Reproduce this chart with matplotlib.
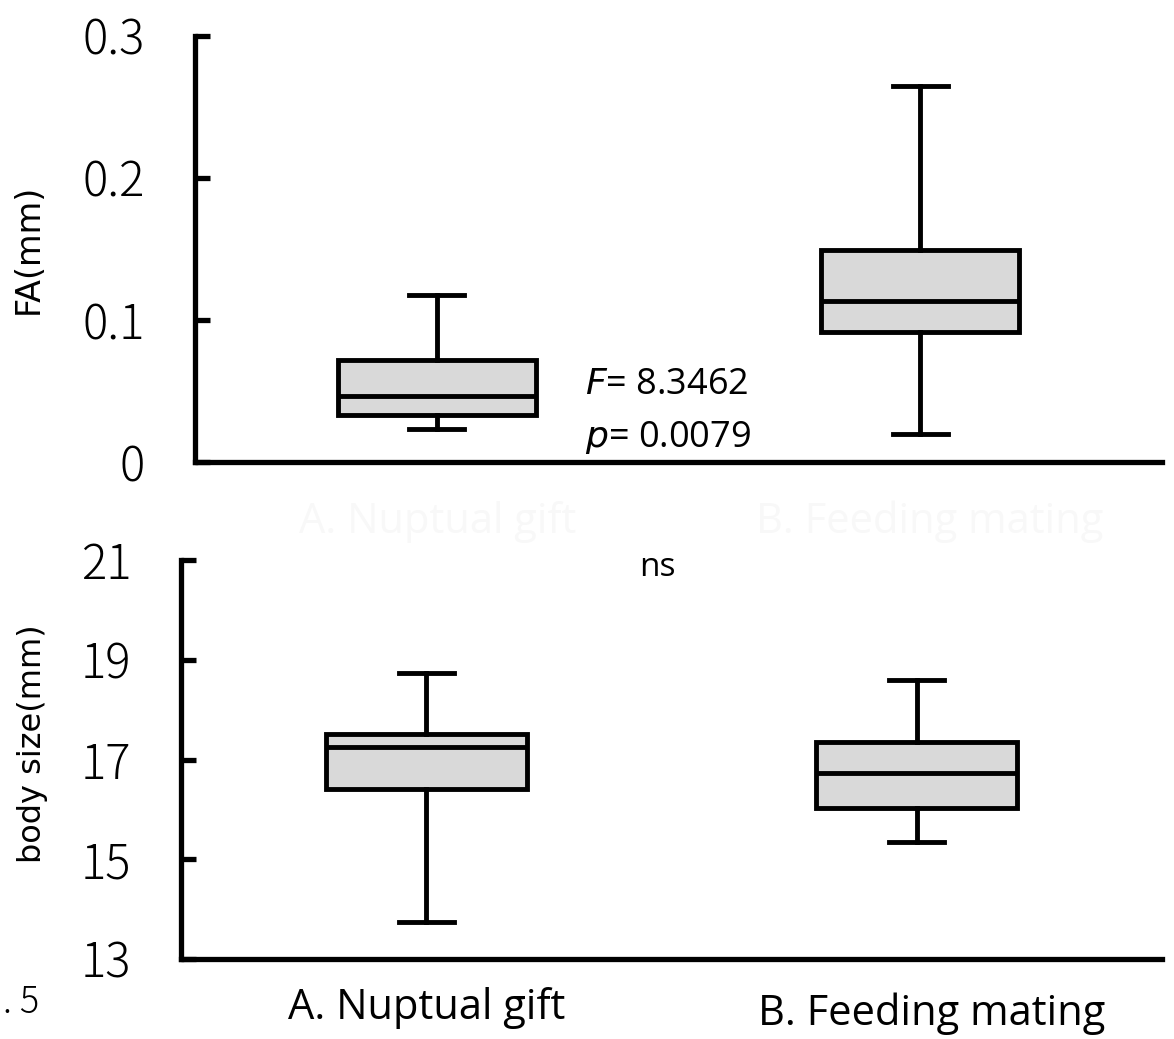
import matplotlib
matplotlib.use("Agg")
import matplotlib.pyplot as plt
import matplotlib.transforms as mtransforms

# ---- data ----
groups = ["A. Nuptual gift", "B. Feeding mating"]
# FA (mm): whisker low, Q1, median, Q3, whisker high
fa_low = [0.0232, 0.0197]
fa_q1 = [0.0331, 0.0915]
fa_med = [0.0465, 0.1134]
fa_q3 = [0.0718, 0.1493]
fa_high = [0.1176, 0.2648]
# body size (mm)
bs_low = [13.74, 15.34]
bs_q1 = [16.41, 16.03]
bs_med = [17.25, 16.73]
bs_q3 = [17.51, 17.35]
bs_high = [18.73, 18.59]

fa_ticks = [0, 0.1, 0.2, 0.3]
fa_ticklabels = ["0", "0.1", "0.2", "0.3"]
bs_ticks = [13, 15, 17, 19, 21]

def stats(low, q1, med, q3, high):
    return [dict(whislo=l, q1=a, med=m, q3=b, whishi=h, fliers=[])
            for l, a, m, b, h in zip(low, q1, med, q3, high)]

fig = plt.figure(figsize=(11.74, 10.39), dpi=100)
ax1 = fig.add_axes([0.1661, 0.5553, 0.8237, 0.4101])
ax2 = fig.add_axes([0.1542, 0.0770, 0.8356, 0.3840])

lw = 3.5
num_font = "Noto Sans CJK JP"
num_weight = 300
lab_font = "Open Sans"
box_props = dict(facecolor="#d9d9d9", edgecolor="black", linewidth=lw)
line_props = dict(color="black", linewidth=lw)

positions = [1, 2]
for ax, st in ((ax1, stats(fa_low, fa_q1, fa_med, fa_q3, fa_high)),
               (ax2, stats(bs_low, bs_q1, bs_med, bs_q3, bs_high))):
    ax.bxp(st, positions=positions, widths=0.41, capwidths=0.113,
           patch_artist=True, showfliers=False,
           boxprops=box_props, medianprops=line_props,
           whiskerprops=line_props, capprops=line_props)
    ax.set_xlim(0.5, 2.5)
    for s in ("top", "right"):
        ax.spines[s].set_visible(False)
    for s in ("left", "bottom"):
        ax.spines[s].set_linewidth(lw + 0.3)
    ax.tick_params(axis="y", direction="in", length=11, width=lw + 0.3,
                   pad=36, labelsize=34)
    ax.tick_params(axis="x", length=0)

ax1.set_ylim(0, 0.3)
ax1.set_yticks(fa_ticks)
ax1.set_yticklabels(fa_ticklabels, fontfamily=num_font, fontsize=34,
                    fontweight=num_weight)
ax1.set_xticks([])
ax1.set_ylabel("FA(mm)", fontsize=24, fontfamily="DejaVu Sans")
ax1.yaxis.set_label_coords(-0.155, 0.5)

ax2.set_ylim(13, 21)
ax2.set_yticks(bs_ticks)
ax2.set_yticklabels([str(v) for v in bs_ticks], fontfamily=num_font,
                    fontsize=34, fontweight=num_weight)
ax2.set_xticks(positions)
ax2.set_xticklabels(groups, fontfamily=lab_font, fontsize=30)
ax2.tick_params(axis="x", pad=20)
ax2.set_ylabel("body size(mm)", fontsize=23, fontfamily="DejaVu Sans")
ax2.yaxis.set_label_coords(-0.136, 0.54)

# nudge the second group label slightly right/down as in the reference
xl = ax2.get_xticklabels()
xl[1].set_transform(xl[1].get_transform() +
                    mtransforms.ScaledTranslation(0.15, -0.06, fig.dpi_scale_trans))

# annotations
fig.text(585 / 1174, 1 - 385 / 1039, r"$\mathit{F}$= 8.3462", fontsize=26,
         fontfamily=lab_font, va="center", ha="left")
fig.text(585 / 1174, 1 - 437 / 1039, r"$\mathit{p}$= 0.0079", fontsize=26,
         fontfamily=lab_font, va="center", ha="left")
fig.text(657 / 1174, 1 - 567 / 1039, "ns", fontsize=24,
         fontfamily=lab_font, va="center", ha="center")
fig.text(3 / 1174, 1 - 1003 / 1039, ". 5", fontsize=26,
         fontfamily=num_font, fontweight=num_weight, va="center", ha="left")
# faint ghost labels between panels
fig.text(438 / 1174, 1 - 522 / 1039, groups[0], fontsize=30, color="#f8f8f8",
         fontfamily=lab_font, va="center", ha="center")
fig.text(930 / 1174, 1 - 522 / 1039, groups[1], fontsize=30, color="#f8f8f8",
         fontfamily=lab_font, va="center", ha="center")

fig.savefig("out.png", dpi=100)
